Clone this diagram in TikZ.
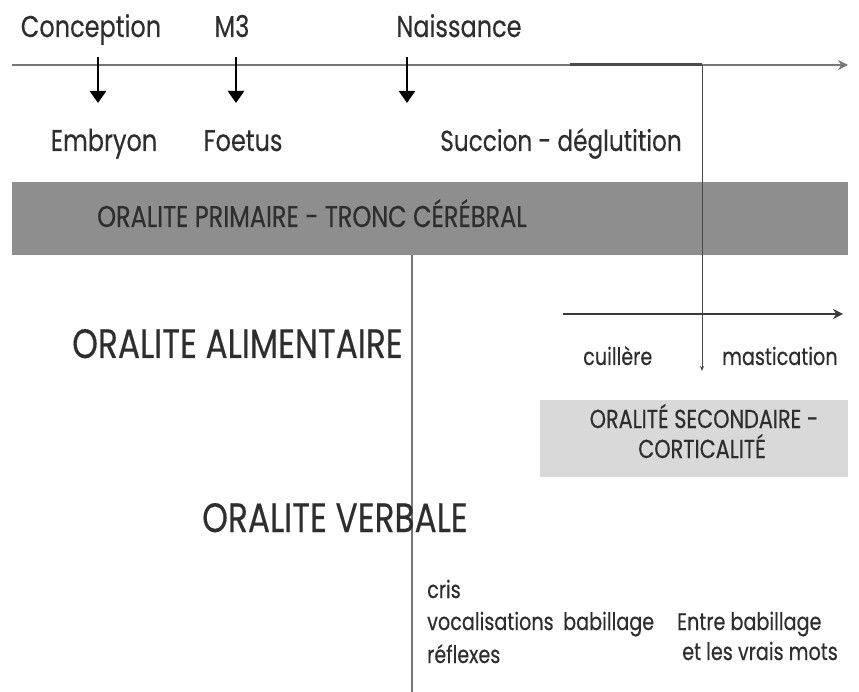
\documentclass[tikz,border=0pt]{standalone}
\usepackage{fontspec}
\setmainfont{Poppins}[FakeStretch=0.8, FakeBold=0.4]
\usetikzlibrary{arrows.meta}
\definecolor{texte}{HTML}{2E2E2E}
\definecolor{bande}{HTML}{8E8E8E}
\definecolor{boite}{HTML}{D9D9D9}
\definecolor{trait}{HTML}{777777}

\begin{document}
\begin{tikzpicture}[x=1pt, y=-1pt, every node/.style={text=texte, inner sep=0pt}]
    \useasboundingbox (0,0) rectangle (859,692);
    % bandes
    \node (primaire) [fill=bande, minimum width=836pt, minimum height=73pt, anchor=north west] at (12,182) {};
    \node (secondaire) [fill=boite, minimum width=308pt, minimum height=77pt, anchor=north west] at (540,400) {};
    % ligne du temps
    \coordinate (debut) at (12,65);
    \coordinate (fin) at (848,65);
    \coordinate (s1) at (570,65);
    \coordinate (s2) at (702,65);
    \draw [trait, line width=2.5pt, -{Stealth[length=10pt, width=10pt]}] (debut) -- (fin);
    \draw [black!70, line width=3pt] (s1) -- (s2);
    % repères
    \foreach \n/\x in {a/98, b/236, c/407} {
        \coordinate (h\n) at (\x,57);
        \coordinate (b\n) at (\x,103);
        \draw [black, line width=2.5pt, -{Triangle[width=16pt, length=12pt]}] (h\n) -- (b\n);
    }
    \node (conception) [anchor=base] at (91,37) {\fontsize{30}{36}\selectfont Conception};
    \node (m3) [anchor=base] at (232,37) {\fontsize{30}{36}\selectfont M3};
    \node (naissance) [anchor=base] at (459,37) {\fontsize{30}{36}\selectfont Naissance};
    \node (embryon) [anchor=base] at (104,151) {\fontsize{30}{36}\selectfont Embryon};
    \node (foetus) [anchor=base] at (243,151) {\fontsize{30}{36}\selectfont Foetus};
    \node (succion) [anchor=base] at (561,151) {\fontsize{29}{35}\selectfont Succion - déglutition};
    \node (tronc) [anchor=base west] at (97,227) {\fontsize{30}{36}\selectfont ORALITE PRIMAIRE - TRONC CÉRÉBRAL};
    % traits verticaux
    \coordinate (v1) at (412,255);
    \coordinate (v2) at (412,692);
    \draw [trait, line width=1.2pt] (v1) -- (v2);
    \coordinate (pointe) at (702,371);
    \draw [trait!60!black, line width=1pt, -{Stealth[length=5pt, width=4pt]}] (s2) -- (pointe);
    % oralité alimentaire
    \coordinate (a1) at (563,314);
    \coordinate (a2) at (843,314);
    \draw [trait!50!black, line width=2.5pt, -{Stealth[length=10pt, width=10pt]}] (a1) -- (a2);
    \node (alimentaire) [anchor=base west] at (72,358) {\fontsize{41}{48}\selectfont ORALITE ALIMENTAIRE};
    \node (cuillere) [anchor=base west] at (583,365) {\fontsize{24}{29}\selectfont cuillère};
    \node (mastication) [anchor=base west] at (722,365) {\fontsize{24}{29}\selectfont mastication};
    \node (secondaire1) [anchor=base] at (704,428) {\fontsize{26}{31}\selectfont ORALITÉ SECONDAIRE -};
    \node (secondaire2) [anchor=base] at (702,458) {\fontsize{26}{31}\selectfont CORTICALITÉ};
    % oralité verbale
    \node (verbale) [anchor=base west] at (202,532) {\fontsize{41}{48}\selectfont ORALITE VERBALE};
    \node (cris) [anchor=base west] at (427,598) {\fontsize{24}{29}\selectfont cris};
    \node (vocalisations) [anchor=base west] at (427,630) {\fontsize{24}{29}\selectfont vocalisations};
    \node (reflexes) [anchor=base west] at (427,663) {\fontsize{24}{29}\selectfont réflexes};
    \node (babillage) [anchor=base west] at (563,630) {\fontsize{24}{29}\selectfont babillage};
    \node (entre) [anchor=base west] at (677,630) {\fontsize{24}{29}\selectfont Entre babillage};
    \node (vraismots) [anchor=base west] at (682,660) {\fontsize{24}{29}\selectfont et les vrais mots};
\end{tikzpicture}
\end{document}
